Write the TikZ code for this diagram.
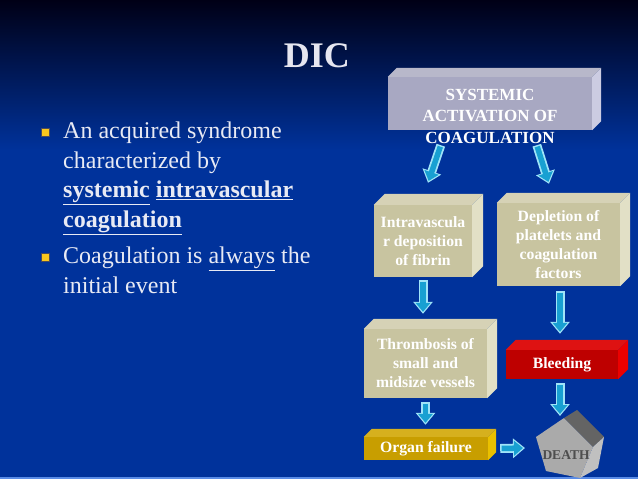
\documentclass[tikz,border=0pt]{standalone}
\usepackage{fontspec}
\setmainfont{Liberation Serif}
\usetikzlibrary{arrows.meta, calc}
\definecolor{bgtop}{RGB}{0,0,22}
\definecolor{bgmid}{RGB}{4,26,84}
\definecolor{bgblue}{RGB}{0,50,155}
\definecolor{rimblue}{RGB}{90,140,230}
\definecolor{titlegray}{RGB}{230,230,240}
\definecolor{bodywhite}{RGB}{232,234,244}
\definecolor{bulletyellow}{RGB}{250,200,30}
\definecolor{sysfront}{RGB}{168,168,194}
\definecolor{systop}{RGB}{184,184,202}
\definecolor{sysside}{RGB}{204,204,226}
\definecolor{khakifront}{RGB}{200,196,160}
\definecolor{khakitop}{RGB}{214,210,182}
\definecolor{khakiside}{RGB}{226,224,198}
\definecolor{redfront}{RGB}{190,0,0}
\definecolor{redtop}{RGB}{222,18,18}
\definecolor{redside}{RGB}{236,0,0}
\definecolor{goldfront}{RGB}{200,158,0}
\definecolor{goldtop}{RGB}{214,176,30}
\definecolor{goldside}{RGB}{234,192,0}
\definecolor{deathfront}{RGB}{170,170,170}
\definecolor{deathtop}{RGB}{100,100,100}
\definecolor{deathside}{RGB}{192,192,192}
\definecolor{deathtext}{RGB}{78,78,78}
\definecolor{arrowfill}{RGB}{24,160,210}
\definecolor{arrowedge}{RGB}{160,228,248}
\tikzset{
  facebox/.style={rectangle, inner sep=0pt, align=center, text=white,
    font=\fontsize{15.7}{19}\selectfont\bfseries},
  sysbox/.style={facebox, fill=sysfront},
  khakibox/.style={facebox, fill=khakifront},
  redbox/.style={facebox, fill=redfront},
  goldbox/.style={facebox, fill=goldfront},
  bullettext/.style={anchor=north west, inner sep=0pt, align=left,
    text=bodywhite, font=\fontsize{24}{29.5}\selectfont},
  bulletsq/.style={rectangle, fill=bulletyellow, draw=bgtop!70,
    line width=0.6pt, minimum size=8pt, inner sep=0pt},
  blockarrow/.style={draw=arrowedge, line width=9pt,
    -{Triangle[width=19pt,length=12pt]},
    postaction={draw=arrowfill, line width=5.5pt, shorten <=1.5pt,
      shorten >=2pt, -{Triangle[width=14.5pt,length=9pt]}}}
}
% top and right faces of a box node
\newcommand{\extrude}[4]{%
  \fill[#3] (#1.north west) -- ++(#2,-#2) -- ([shift={(#2,-#2)}]#1.north east) -- (#1.north east) -- cycle;
  \fill[#4] (#1.north east) -- ++(#2,-#2) -- ([shift={(#2,-#2)}]#1.south east) -- (#1.south east) -- cycle;}

\begin{document}
\begin{tikzpicture}[x=1pt, y=-1pt]
  \useasboundingbox (0,0) rectangle (638,479);
  \fill[bgblue] (0,0) rectangle (638,479);
  \shade[top color=bgtop, middle color=bgmid, bottom color=bgblue] (0,0) rectangle (638,150);
  \fill[rimblue] (0,476.5) rectangle (638,479);

  % title and bullets
  \node[text=titlegray, font=\fontsize{36}{40}\selectfont\bfseries] (title) at (317,56) {DIC};
  \node[bulletsq] (sq1) at (45,132) {};
  \node[bulletsq] (sq2) at (45,257) {};
  \node[bullettext] (b1) at (63,122) {An acquired syndrome\\characterized by\\
    \textbf{\underline{systemic}} \textbf{\underline{intravascular}}\\\textbf{\underline{coagulation}}};
  \node[bullettext] (b2) at (63,247) {Coagulation is \underline{always} the\\initial event};

  % boxes
  \node[sysbox, minimum width=204pt, minimum height=53pt] (sys) at (490,103.5) {};
  \extrude{sys}{9}{systop}{sysside}
  \node[facebox, font=\fontsize{17}{21.5}\selectfont\bfseries] (systxt) at (490,116) {SYSTEMIC\\ACTIVATION OF\\COAGULATION};
  \node[khakibox, minimum width=98pt, minimum height=72pt] (intra) at (423,241) {Intravascula\\r deposition\\of fibrin};
  \extrude{intra}{11}{khakitop}{khakiside}
  \node[khakibox, minimum width=123pt, minimum height=83pt] (depl) at (558.5,244.5) {Depletion of\\platelets and\\coagulation\\factors};
  \extrude{depl}{10}{khakitop}{khakiside}
  \node[khakibox, minimum width=123pt, minimum height=69pt] (thromb) at (425.5,363.5) {Thrombosis of\\small and\\midsize vessels};
  \extrude{thromb}{10}{khakitop}{khakiside}
  \node[redbox, minimum width=112pt, minimum height=29pt] (bleed) at (562,364.5) {Bleeding};
  \extrude{bleed}{10}{redtop}{redside}
  \node[goldbox, minimum width=124pt, minimum height=23pt] (organ) at (426,448.5) {Organ failure};
  \extrude{organ}{8}{goldtop}{goldside}

  % death block
  \fill[deathfront] (564,418) -- (536,437) -- (546,471) -- (580,478) -- (593,447) -- cycle;
  \fill[deathtop] (564,418) -- (577,410) -- (604,437) -- (593,447) -- cycle;
  \fill[deathside] (593,447) -- (604,437) -- (598,468) -- (580,478) -- cycle;
  \node[text=deathtext, font=\fontsize{13.5}{15}\selectfont\bfseries] (death) at (566,455) {DEATH};

  % arrows
  \draw[blockarrow] ($(sys.south west)+(53,15)$) -- ($(intra.north)+(5,-22)$);
  \draw[blockarrow] ($(sys.south west)+(149,15)$) -- ($(depl.north)+(-9.5,-19)$);
  \draw[blockarrow] ($(intra.south)+(0,3)$) -- ($(thromb.north)+(-2.5,-15)$);
  \draw[blockarrow] ($(depl.south)+(1.5,5)$) -- ($(bleed.north)+(-2,-16)$);
  \draw[blockarrow] ($(thromb.south)+(0,4)$) -- ($(organ.north)+(-0.5,-12)$);
  \draw[blockarrow] ($(bleed.south)+(-2,4)$) -- ($(death)+(-6,-39)$);
  \draw[blockarrow] ($(organ.east)+(12,0)$) -- ($(death)+(-41,-7)$);
\end{tikzpicture}
\end{document}
